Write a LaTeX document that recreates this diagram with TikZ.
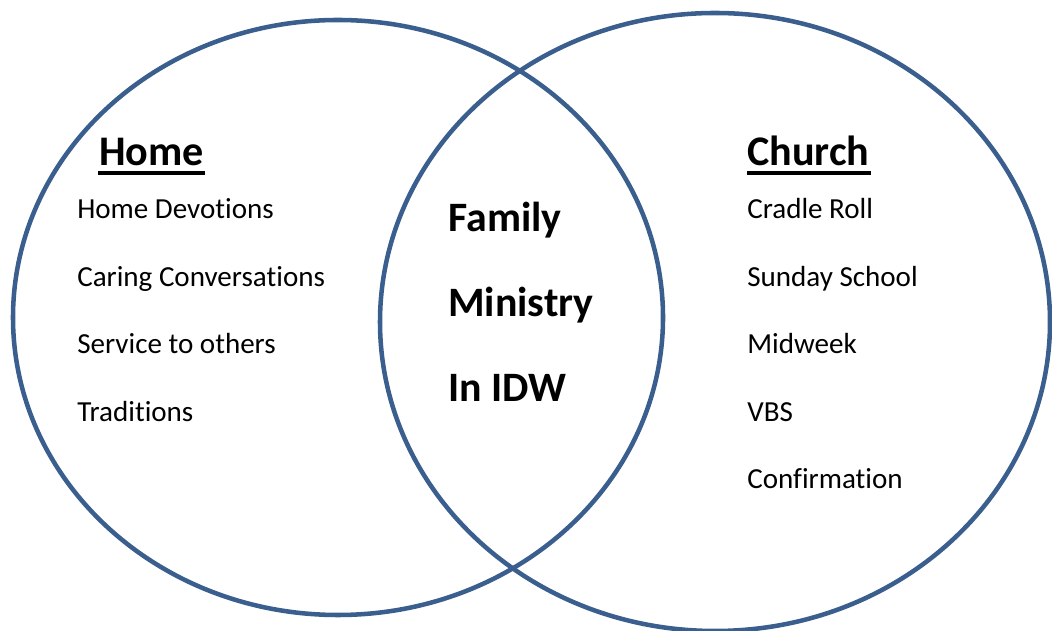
\documentclass[tikz,border=0pt]{standalone}
\usepackage{fontspec}
\setmainfont{Carlito}[Ligatures=NoCommon]
\usetikzlibrary{calc}
\definecolor{ringblue}{HTML}{3A5F8E}
\tikzset{
  ring/.style={draw=ringblue, line width=3.4pt},
  heading/.style={anchor=base west, inner sep=0, font=\fontsize{31.6}{36}\selectfont\bfseries},
  headrule/.style={line width=3pt},
  listitem/.style={anchor=base west, inner sep=0, font=\fontsize{21.8}{25}\selectfont},
  middle/.style={anchor=base west, inner sep=0, font=\fontsize{31.4}{35}\selectfont\bfseries}
}

\begin{document}
\begin{tikzpicture}[x=0.75pt, y=0.75pt]
\useasboundingbox (0,0) rectangle (1052,631);
\draw[ring] (338,313.5) ellipse [x radius=325, y radius=297.5];
\draw[ring] (715,309) ellipse [x radius=335, y radius=309];
\node[heading] (home) at (99,465) {Home};
\node[heading] (church) at (747,465) {Church};
\draw[headrule] ($(home.base west)+(-1,-7)$) -- ($(home.base east)+(1,-7)$);
\draw[headrule] ($(church.base west)+(0,-7)$) -- ($(church.base east)+(1,-7)$);
\foreach \txt [count=\i] in {Home Devotions, Caring Conversations, Service to others, Traditions} {
 \node[listitem] (home\i) at (77,{412-67.5*(\i-1)}) {\txt};
}
\foreach \txt [count=\i] in {Cradle Roll, Sunday School, Midweek, VBS, Confirmation} {
 \node[listitem] (church\i) at (747,{412-67.5*(\i-1)}) {\txt};
}
\foreach \txt [count=\i] in {Family, Ministry, In IDW} {
 \node[middle] (fam\i) at (448,{399-85*(\i-1)}) {\txt};
}
\end{tikzpicture}
\end{document}
